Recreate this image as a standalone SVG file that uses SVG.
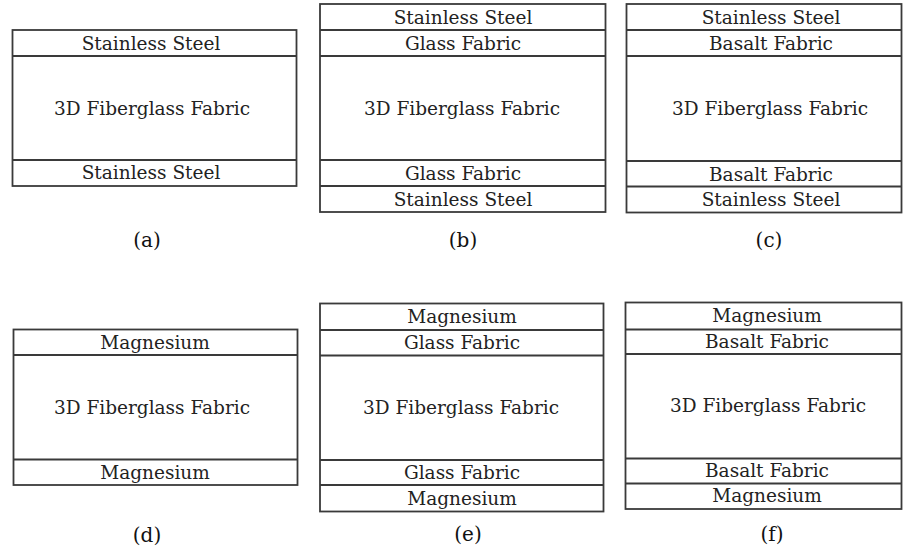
<svg xmlns="http://www.w3.org/2000/svg" width="904" height="550" viewBox="0 0 904 550">
<style>
  .box { fill: #ffffff; stroke: #3a3a3a; stroke-width: 1.8; }
  .div { stroke: #3a3a3a; stroke-width: 1.8; }
  .lbl { font-family: 'DejaVu Serif', 'Liberation Serif', serif; font-size: 18.5px; fill: #222222; text-anchor: middle; }
  .cap { font-family: 'DejaVu Serif', 'Liberation Serif', serif; font-size: 20px; fill: #111111; text-anchor: middle; }
</style>
<rect width="904" height="550" fill="#ffffff"/>
<g id="panel-a">
  <rect class="box" x="12.5" y="30" width="284" height="156"/>
  <line class="div" x1="12.5" y1="56" x2="296.5" y2="56"/>
  <line class="div" x1="12.5" y1="160" x2="296.5" y2="160"/>
  <text class="lbl" x="151" y="50">Stainless Steel</text>
  <text class="lbl" x="152" y="115">3D Fiberglass Fabric</text>
  <text class="lbl" x="151" y="179">Stainless Steel</text>
  <text class="cap" x="147" y="247">(a)</text>
</g>

<g id="panel-b">
  <rect class="box" x="320" y="4" width="285.5" height="208"/>
  <line class="div" x1="320" y1="30" x2="605.5" y2="30"/>
  <line class="div" x1="320" y1="56" x2="605.5" y2="56"/>
  <line class="div" x1="320" y1="160" x2="605.5" y2="160"/>
  <line class="div" x1="320" y1="186" x2="605.5" y2="186"/>
  <text class="lbl" x="463" y="24">Stainless Steel</text>
  <text class="lbl" x="463" y="50">Glass Fabric</text>
  <text class="lbl" x="462" y="115">3D Fiberglass Fabric</text>
  <text class="lbl" x="463" y="180">Glass Fabric</text>
  <text class="lbl" x="463" y="206">Stainless Steel</text>
  <text class="cap" x="463" y="247">(b)</text>
</g>

<g id="panel-c">
  <rect class="box" x="626.5" y="4" width="275" height="208.5"/>
  <line class="div" x1="626.5" y1="30" x2="901.5" y2="30"/>
  <line class="div" x1="626.5" y1="56" x2="901.5" y2="56"/>
  <line class="div" x1="626.5" y1="161" x2="901.5" y2="161"/>
  <line class="div" x1="626.5" y1="186.5" x2="901.5" y2="186.5"/>
  <text class="lbl" x="771" y="24">Stainless Steel</text>
  <text class="lbl" x="771" y="50">Basalt Fabric</text>
  <text class="lbl" x="770" y="115">3D Fiberglass Fabric</text>
  <text class="lbl" x="771" y="181">Basalt Fabric</text>
  <text class="lbl" x="771" y="206">Stainless Steel</text>
  <text class="cap" x="769" y="247">(c)</text>
</g>

<g id="panel-d">
  <rect class="box" x="13.5" y="329.5" width="284" height="155.5"/>
  <line class="div" x1="13.5" y1="355" x2="297.5" y2="355"/>
  <line class="div" x1="13.5" y1="459.5" x2="297.5" y2="459.5"/>
  <text class="lbl" x="155" y="349">Magnesium</text>
  <text class="lbl" x="152" y="414">3D Fiberglass Fabric</text>
  <text class="lbl" x="155" y="479">Magnesium</text>
  <text class="cap" x="147" y="542">(d)</text>
</g>

<g id="panel-e">
  <rect class="box" x="320" y="303.5" width="283.5" height="208"/>
  <line class="div" x1="320" y1="330" x2="603.5" y2="330"/>
  <line class="div" x1="320" y1="355.5" x2="603.5" y2="355.5"/>
  <line class="div" x1="320" y1="460" x2="603.5" y2="460"/>
  <line class="div" x1="320" y1="485" x2="603.5" y2="485"/>
  <text class="lbl" x="462" y="323">Magnesium</text>
  <text class="lbl" x="462" y="349">Glass Fabric</text>
  <text class="lbl" x="461" y="414">3D Fiberglass Fabric</text>
  <text class="lbl" x="462" y="479">Glass Fabric</text>
  <text class="lbl" x="462" y="505">Magnesium</text>
  <text class="cap" x="468" y="541">(e)</text>
</g>

<g id="panel-f">
  <rect class="box" x="625.5" y="302.5" width="276" height="206.5"/>
  <line class="div" x1="625.5" y1="329.5" x2="901.5" y2="329.5"/>
  <line class="div" x1="625.5" y1="354" x2="901.5" y2="354"/>
  <line class="div" x1="625.5" y1="458.5" x2="901.5" y2="458.5"/>
  <line class="div" x1="625.5" y1="483.5" x2="901.5" y2="483.5"/>
  <text class="lbl" x="767" y="322">Magnesium</text>
  <text class="lbl" x="767" y="348">Basalt Fabric</text>
  <text class="lbl" x="768" y="412">3D Fiberglass Fabric</text>
  <text class="lbl" x="767" y="477">Basalt Fabric</text>
  <text class="lbl" x="767" y="502">Magnesium</text>
  <text class="cap" x="772" y="541">(f)</text>
</g>
</svg>
